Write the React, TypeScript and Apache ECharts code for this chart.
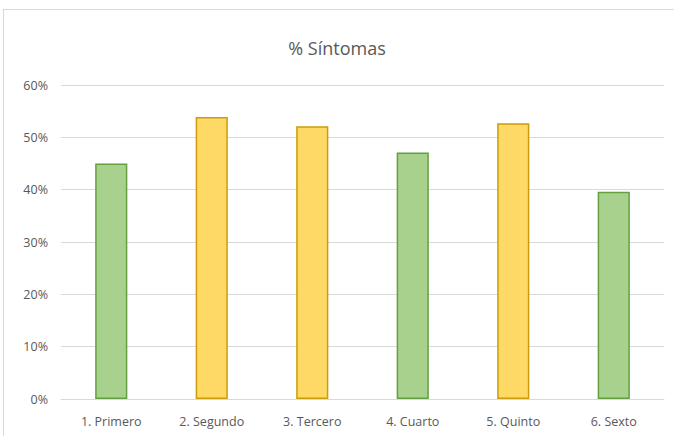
import React, { useEffect, useRef } from "react";
import * as echarts from "echarts";

// Categories and symptom percentages per group
const categories = ["1. Primero", "2. Segundo", "3. Tercero", "4. Cuarto", "5. Quinto", "6. Sexto"];
const values = [45.0, 53.9, 52.1, 47.1, 52.7, 39.6];
// Bar palette per category: g = green, y = yellow
const palette = ["g", "y", "y", "g", "y", "g"];
const yTicks = [0, 10, 20, 30, 40, 50, 60];

const GREEN = { fill: "#A9D18E", border: "#64A03F" };
const YELLOW = { fill: "#FFD966", border: "#CC9C0A" };

export default function App() {
  const ref = useRef<HTMLDivElement>(null);

  useEffect(() => {
    if (!ref.current) return;
    const chart = echarts.init(ref.current, undefined, { renderer: "svg" });
    const labelFont = "'Open Sans', 'Noto Sans', sans-serif";
    chart.setOption({
      animation: false,
      backgroundColor: "#ffffff",
      title: {
        text: "% Síntomas",
        left: "center",
        top: 34,
        textStyle: {
          fontFamily: labelFont,
          fontSize: 18,
          fontWeight: "normal",
          color: "#595959",
        },
      },
      graphic: [
        {
          type: "line",
          shape: { x1: 3, y1: 9.5, x2: 674, y2: 9.5 },
          style: { stroke: "#d9d9d9", lineWidth: 1 },
        },
        {
          type: "line",
          shape: { x1: 3.5, y1: 9, x2: 3.5, y2: 436 },
          style: { stroke: "#d9d9d9", lineWidth: 1 },
        },
      ],
      grid: { left: 61, right: 10, top: 85, bottom: 37, containLabel: false },
      xAxis: {
        type: "category",
        data: categories,
        axisLine: { show: true, lineStyle: { color: "#d9d9d9", width: 1 } },
        axisTick: { show: false },
        axisLabel: {
          color: "#595959",
          fontFamily: labelFont,
          fontSize: 12.5,
          margin: 16,
        },
      },
      yAxis: {
        type: "value",
        min: yTicks[0],
        max: yTicks[yTicks.length - 1],
        interval: 10,
        axisLine: { show: false },
        axisTick: { show: false },
        splitLine: { lineStyle: { color: "#d9d9d9", width: 1 } },
        axisLabel: {
          color: "#595959",
          fontFamily: labelFont,
          fontSize: 12.5,
          margin: 13,
          formatter: (v: number) => `${v}%`,
        },
      },
      series: [
        {
          type: "bar",
          barWidth: "32%",
          data: values.map((v, i) => {
            const c = palette[i] === "g" ? GREEN : YELLOW;
            return {
              value: v,
              itemStyle: { color: c.fill, borderColor: c.border, borderWidth: 1.5 },
            };
          }),
        },
      ],
    });
    return () => chart.dispose();
  }, []);

  return (
    <div
      ref={ref}
      style={{ position: "fixed", left: 0, top: 0, width: 674, height: 436, background: "#fff" }}
    />
  );
}
